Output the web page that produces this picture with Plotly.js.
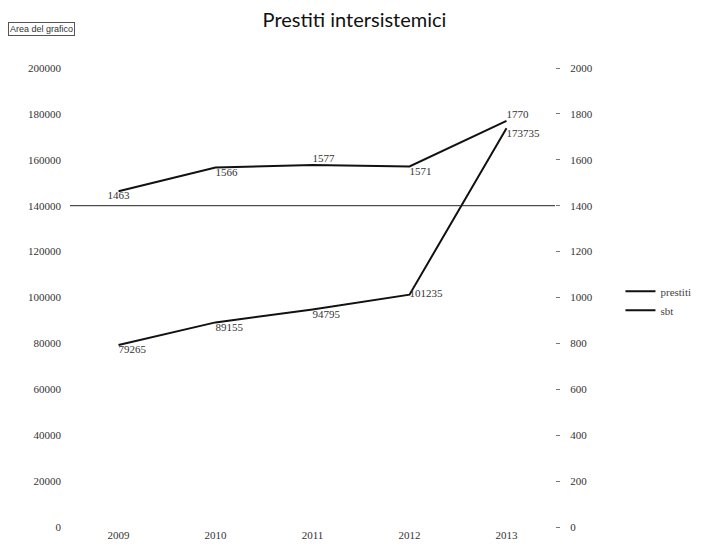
<!DOCTYPE html>
<html>
<head>
<meta charset="utf-8">
<script src="https://cdn.plot.ly/plotly-3.0.1.min.js"></script>
<style>html,body{margin:0;padding:0;background:#fff;}#chart{width:709px;height:551px;}</style>
</head>
<body>
<div id="chart"></div>
<script>
var years = ['2009', '2010', '2011', '2012', '2013'];
var prestiti = [79265, 89155, 94795, 101235, 173735];
var secondSeries = [1463, 1566, 1577, 1571, 1770];
var prestitiLabelPos = ['bottom right', 'bottom right', 'bottom right', 'middle right', 'bottom right'];
var secondLabelPos = ['bottom center', 'bottom right', 'top right', 'bottom right', 'top right'];
var seriesNames = ['prestiti', 'sbt'];
var gridValue = 140000;

var numFont = {family: 'Liberation Serif, serif', size: 11, color: '#333'};

var traces = [
  {
    x: years, y: prestiti, name: seriesNames[0], type: 'scatter', mode: 'lines+text',
    line: {color: '#111', width: 2},
    text: prestiti.map(String), textposition: prestitiLabelPos,
    textfont: numFont, yaxis: 'y', cliponaxis: false
  },
  {
    x: years, y: secondSeries, name: seriesNames[1], type: 'scatter', mode: 'lines+text',
    line: {color: '#111', width: 2},
    text: secondSeries.map(String), textposition: secondLabelPos,
    textfont: numFont, yaxis: 'y2', cliponaxis: false
  }
];

var layout = {
  width: 709, height: 551,
  paper_bgcolor: '#fff', plot_bgcolor: '#fff',
  margin: {l: 70, r: 151, t: 68, b: 24},
  title: {text: 'Prestiti intersistemici', x: 0.5, xanchor: 'center', y: 0.963, yanchor: 'middle',
          font: {family: 'Lato, Open Sans, sans-serif', size: 20, color: '#111'}},
  showlegend: true,
  legend: {x: 1.135, xanchor: 'left', y: 0.545, yanchor: 'top', bgcolor: 'rgba(0,0,0,0)',
           font: {family: 'Liberation Serif, serif', size: 11, color: '#444'}, tracegroupgap: 6},
  xaxis: {type: 'category', showgrid: false, zeroline: false, showline: false, ticks: '',
          tickfont: numFont, range: [-0.5, 4.5]},
  yaxis: {range: [0, 200000], dtick: 20000, tick0: 0, showgrid: false, zeroline: false,
          showline: false, ticks: '', tickformat: 'd', tickfont: numFont, ticklabelstandoff: 8},
  yaxis2: {range: [0, 2000], dtick: 200, tick0: 0, overlaying: 'y', side: 'right',
           showgrid: false, zeroline: false, showline: false, ticks: 'outside', ticklen: 4,
           tickcolor: '#777', tickformat: 'd', tickfont: numFont, ticklabelstandoff: 8},
  shapes: [{type: 'line', xref: 'paper', yref: 'y', x0: 0, x1: 1, y0: gridValue, y1: gridValue,
            line: {color: '#222', width: 1}}],
  annotations: [{text: 'Area del grafico', xref: 'paper', yref: 'paper', x: -0.127, y: 1.085,
                 xanchor: 'left', yanchor: 'middle', showarrow: false,
                 font: {family: 'Liberation Sans, sans-serif', size: 9, color: '#333'},
                 bordercolor: '#555', borderwidth: 1, borderpad: 1}]
};

Plotly.newPlot('chart', traces, layout, {displayModeBar: false, staticPlot: true});
</script>
</body>
</html>
